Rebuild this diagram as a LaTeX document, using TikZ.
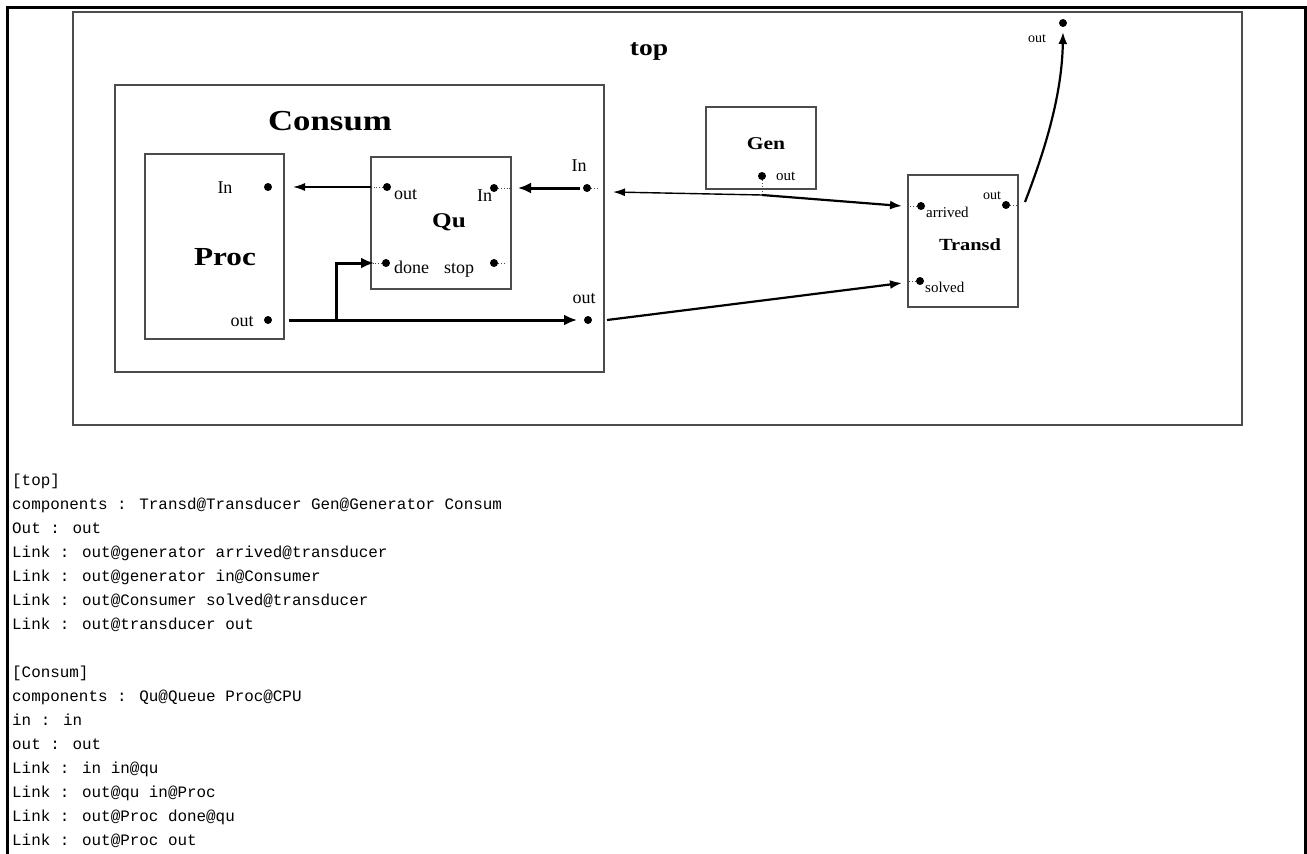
\documentclass[tikz,border=0pt]{standalone}
\usepackage{fontspec}
\setmainfont{Liberation Serif}
\newfontfamily\widefont[FakeStretch=1.2]{Liberation Serif}
\newfontfamily\codefont{Liberation Mono}
\usetikzlibrary{arrows.meta,calc}
\begin{document}
\begin{tikzpicture}[x=1pt,y=-1pt,
  box/.style={draw=black!70, line width=1.4pt, inner sep=0pt, fill=none},
  port/.style={circle, fill=black, inner sep=0pt, minimum size=8pt},
  boxtitle/.style={font=\widefont\bfseries\fontsize{#1}{#1}\selectfont, anchor=base, inner sep=0pt},
  lab/.style={font=\fontsize{#1}{#1}\selectfont, anchor=base west, inner sep=0pt},
  labc/.style={font=\fontsize{#1}{#1}\selectfont, anchor=base, inner sep=0pt},
  code/.style={font=\codefont\fontsize{15.9}{15.9}\selectfont, anchor=base west, inner sep=0pt},
  thinarrow/.style={line width=1.4pt, -{Latex[length=12pt,width=8pt]}},
  medarrow/.style={line width=2.2pt, -{Latex[length=12pt,width=9pt]}},
  thickarrow/.style={line width=3pt, -{Latex[length=13pt,width=11pt]}},
  stub/.style={line width=0.8pt, dotted, black!70}
]
\useasboundingbox (0,0) rectangle (1307,854);
% outer frame (open at bottom)
\draw[line width=2.5pt] (7.5,854) -- (7.5,7.5) -- (1305.5,7.5) -- (1305.5,854);

% boxes
\node[box, minimum width=1169, minimum height=413] (topframe) at (657.5,218.5) {};
\node[box, minimum width=489, minimum height=287] (consum) at (359.5,228.5) {};
\node[box, minimum width=139, minimum height=185] (proc) at (214.5,246.5) {};
\node[box, minimum width=140, minimum height=132] (qu) at (441,223) {};
\node[box, minimum width=110, minimum height=82] (gen) at (761,148) {};
\node[box, minimum width=110, minimum height=132] (transd) at (963,241) {};

% titles
\node[boxtitle=23] (ttop) at (649,55) {top};
\node[boxtitle=29] (tconsum) at (330,130) {Consum};
\node[boxtitle=26] (tproc) at (225,265) {Proc};
\node[boxtitle=21] (tqu) at (449,227) {Qu};
\node[boxtitle=18] (tgen) at (766,149) {Gen};
\node[boxtitle=17] (ttransd) at (970,250) {Transd};

% ports
\node[port] (procIn) at (268,187) {};
\node[port] (procOut) at (268,320) {};
\node[port] (quOut) at (387,187) {};
\node[port] (quIn) at (494,188) {};
\node[port] (quDone) at (386,263) {};
\node[port] (quStop) at (494,263) {};
\node[port] (consumIn) at (587,188) {};
\node[port] (consumOut) at (588,320) {};
\node[port] (genOut) at (762,176) {};
\node[port] (arrived) at (921,206) {};
\node[port] (solved) at (920,281) {};
\node[port] (transdOut) at (1006,205) {};
\node[port] (topOut) at (1063,23) {};

% port labels
\node[labc=18] (lProcIn) at (225,193) {In};
\node[labc=18] (lProcOut) at (242,326) {out};
\node[lab=18] (lQuOut) at (394,199) {out};
\node[lab=18] (lQuIn) at (477,201) {In};
\node[lab=18] (lQuDone) at (394,273) {done};
\node[lab=18] (lQuStop) at (444,273) {stop};
\node[labc=18] (lConsumIn) at (579,171) {In};
\node[labc=18] (lConsumOut) at (584,303) {out};
\node[lab=15] (lGenOut) at (776,180) {out};
\node[lab=15] (lArrived) at (926,217) {arrived};
\node[lab=14] (lTransdOut) at (983,199) {out};
\node[lab=15] (lSolved) at (925,292) {solved};
\node[lab=14] (lTopOut) at (1028,42) {out};

% dotted stubs at ports
\draw[stub] (quOut) -- ($(quOut)+(-15,0)$);
\draw[stub] (quIn) -- ($(quIn)+(16,0)$);
\draw[stub] (quDone) -- ($(quDone)+(-13,0)$);
\draw[stub] (quStop) -- ($(quStop)+(11,0)$);
\draw[stub] (consumIn) -- ($(consumIn)+(10,0)$);
\draw[stub] (arrived) -- ($(arrived)+(-13,0)$);
\draw[stub] (solved) -- ($(solved)+(-12,0)$);
\draw[stub] (transdOut) -- ($(transdOut)+(12,0)$);
\coordinate (genJ) at (762,195);
\draw[stub] (genOut) -- (genJ);

% connectors inside Consum
\draw[thinarrow] ($(quOut)+(-16,0)$) -- ($(procIn)+(25,0)$);
\draw[thickarrow] ($(consumIn)+(-7,0)$) -- ($(quIn)+(24,0)$);
\draw[thickarrow] ($(procOut)+(21,0)$) -- ($(consumOut)+(-11,0)$);
\draw[thickarrow] ($(procOut)+(68,0)$) |- ($(quDone)+(-12,0)$);

% connectors in top
\draw[thinarrow] (genJ) -- ($(consumIn)+(26,4)$);
\draw[medarrow] (genJ) -- ($(arrived)+(-19,0)$);
\draw[medarrow] ($(consumOut)+(19,0)$) -- ($(solved)+(-18,2)$);
\draw[medarrow] ($(transdOut)+(19,-3)$) .. controls (1045,150) and (1062,95) .. ($(topOut)+(0,9)$);

% code listing
\node[code] (c1) at (12,485) {[top]};
\node[code] (c2) at (12,509) {components : Transd@Transducer Gen@Generator Consum};
\node[code] (c3) at (12,533) {Out : out};
\node[code] (c4) at (12,557) {Link : out@generator arrived@transducer};
\node[code] (c5) at (12,581) {Link : out@generator in@Consumer};
\node[code] (c6) at (12,605) {Link : out@Consumer solved@transducer};
\node[code] (c7) at (12,629) {Link : out@transducer out};
\node[code] (c8) at (12,677) {[Consum]};
\node[code] (c9) at (12,701) {components : Qu@Queue Proc@CPU};
\node[code] (c10) at (12,725) {in : in};
\node[code] (c11) at (12,749) {out : out};
\node[code] (c12) at (12,773) {Link : in in@qu};
\node[code] (c13) at (12,797) {Link : out@qu in@Proc};
\node[code] (c14) at (12,821) {Link : out@Proc done@qu};
\node[code] (c15) at (12,845) {Link : out@Proc out};
\end{tikzpicture}
\end{document}
